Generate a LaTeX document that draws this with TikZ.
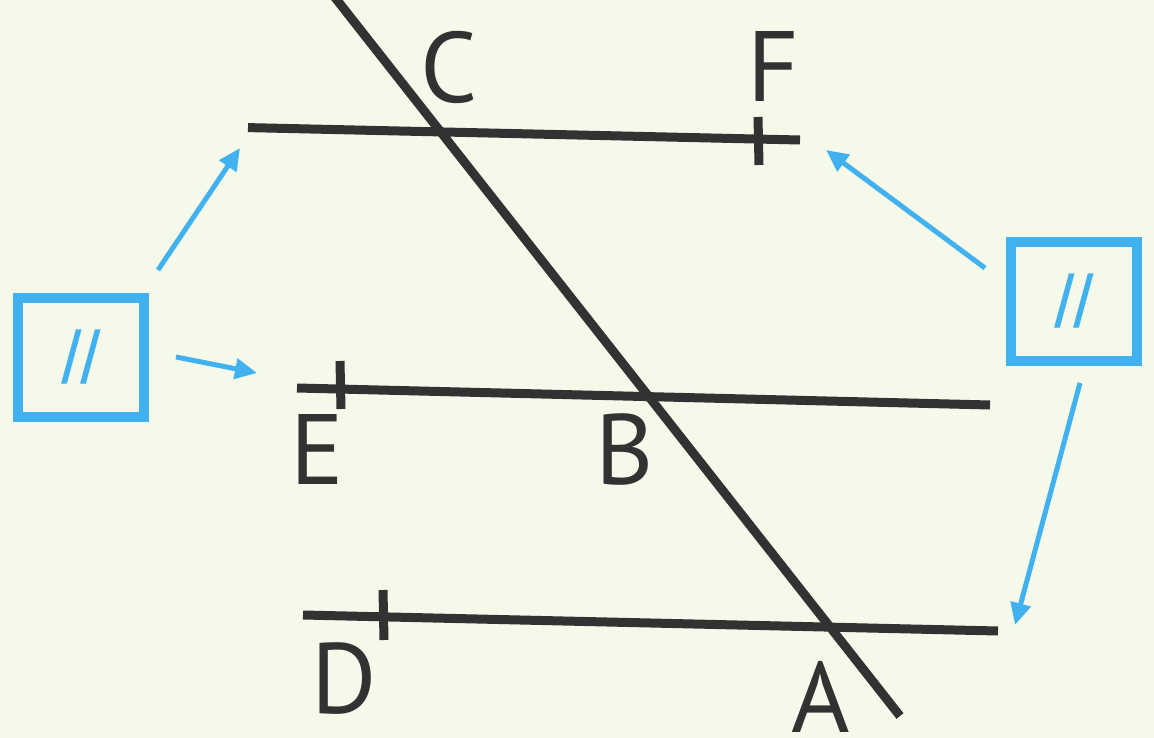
\documentclass[tikz,border=0pt]{standalone}
\usepackage{fontspec}
\setmainfont{PT Sans}
\newfontfamily\slashfont{Liberation Sans}
\usetikzlibrary{arrows.meta}
\definecolor{bg}{HTML}{F5F9E9}
\definecolor{ink}{HTML}{333132}
\definecolor{sky}{HTML}{42B1EF}
\begin{document}
\begin{tikzpicture}[x=1pt,y=-1pt,
 geo/.style={draw=ink,line width=9pt},
 tickmark/.style={draw=ink,line width=9pt},
 lbl/.style={text=ink,font=\fontsize{100}{100}\selectfont,inner sep=0pt,anchor=base},
 pbox/.style={draw=sky,line width=10pt,minimum width=126pt,minimum height=119pt,inner sep=0pt,text=sky,font=\slashfont\fontsize{74}{74}\selectfont},
 parr/.style={draw=sky,line width=5pt,-{Triangle[length=22pt,width=20pt]}}]
\useasboundingbox[fill=bg] (0,0) rectangle (1154,738);
% transversal
\coordinate (t1) at (333,-5);
\coordinate (t2) at (900,716);
\draw[geo] (t1) -- (t2);
% parallel lines
\coordinate (cf1) at (248,127.6);
\coordinate (cf2) at (800,140);
\coordinate (eb1) at (297,388);
\coordinate (eb2) at (990,405);
\coordinate (da1) at (303,615);
\coordinate (da2) at (998,631);
\draw[geo] (cf1) -- (cf2);
\draw[geo] (eb1) -- (eb2);
\draw[geo] (da1) -- (da2);
% ticks
\coordinate (fa) at (758,117); \coordinate (fb) at (759,165);
\coordinate (ea) at (340,361); \coordinate (eb) at (341,409);
\coordinate (dA) at (383,590); \coordinate (dB) at (384,640);
\draw[tickmark] (fa) -- (fb);
\draw[tickmark] (ea) -- (eb);
\draw[tickmark] (dA) -- (dB);
% labels
\node[lbl] (lC) at (449,103) {C};
\node[lbl] (lF) at (773,102) {F};
\node[lbl] (lE) at (317,484) {E};
\node[lbl] (lB) at (625,484) {B};
\node[lbl] (lD) at (344,713) {D};
\node[lbl] (lA) at (821,732) {A};
% boxes
\node[pbox] (left) at (81,357.5) {/\kern-2pt/};
\node[pbox] (right) at (1074,301.5) {/\kern-2pt/};
% arrows
\coordinate (a1s) at (158,270); \coordinate (a1e) at (240,148);
\coordinate (a2s) at (176,357); \coordinate (a2e) at (257,373);
\coordinate (a3s) at (985,268); \coordinate (a3e) at (826,150);
\coordinate (a4s) at (1080,383); \coordinate (a4e) at (1015,625);
\draw[parr] (a1s) -- (a1e);
\draw[parr] (a2s) -- (a2e);
\draw[parr] (a3s) -- (a3e);
\draw[parr] (a4s) -- (a4e);
\end{tikzpicture}
\end{document}
